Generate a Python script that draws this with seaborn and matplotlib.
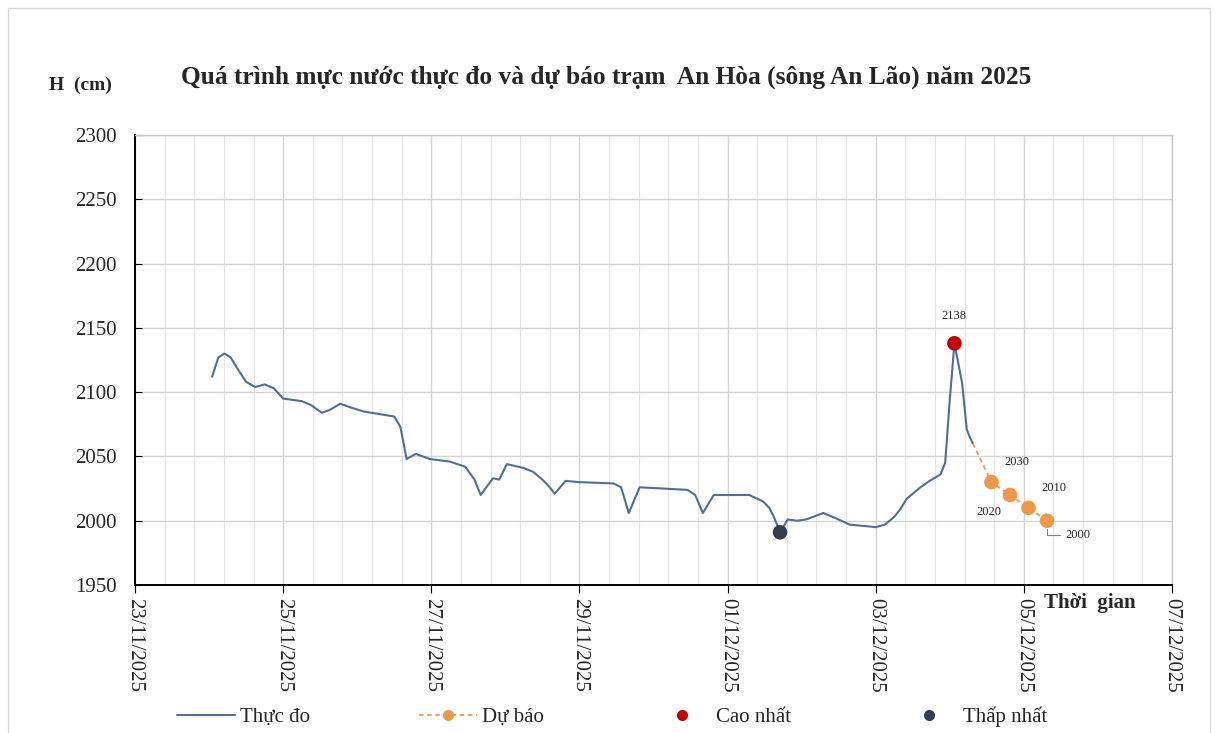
import pandas as pd
import numpy as np
import matplotlib.pyplot as plt
import matplotlib.dates as mdates
from matplotlib.lines import Line2D
from matplotlib.patches import Rectangle
import seaborn as sns

sns.set_style("whitegrid")
plt.rcParams["font.family"] = ["Liberation Serif", "DejaVu Serif"]

# measured water level (Thuc do)
obs_time = ["2025-11-24 01:00", "2025-11-24 03:00", "2025-11-24 05:00", "2025-11-24 07:00",
            "2025-11-24 09:00", "2025-11-24 12:00", "2025-11-24 15:00", "2025-11-24 18:00",
            "2025-11-24 21:00", "2025-11-25 00:00", "2025-11-25 06:00", "2025-11-25 09:00",
            "2025-11-25 12:30", "2025-11-25 15:00", "2025-11-25 18:30", "2025-11-25 22:00",
            "2025-11-26 02:00", "2025-11-26 07:00", "2025-11-26 12:00", "2025-11-26 14:00",
            "2025-11-26 16:00", "2025-11-26 19:00", "2025-11-26 23:30", "2025-11-27 06:00",
            "2025-11-27 11:00", "2025-11-27 14:00", "2025-11-27 16:00", "2025-11-27 20:00",
            "2025-11-27 22:00", "2025-11-28 00:30", "2025-11-28 06:00", "2025-11-28 09:00",
            "2025-11-28 12:00", "2025-11-28 14:00", "2025-11-28 16:00", "2025-11-28 19:30",
            "2025-11-29 00:00", "2025-11-29 11:00", "2025-11-29 13:30", "2025-11-29 16:00",
            "2025-11-29 19:30", "2025-11-30 11:00", "2025-11-30 13:30", "2025-11-30 16:00",
            "2025-11-30 19:30", "2025-12-01 07:00", "2025-12-01 11:30", "2025-12-01 13:30",
            "2025-12-01 15:00", "2025-12-01 17:00", "2025-12-01 19:30", "2025-12-01 22:30",
            "2025-12-02 01:30", "2025-12-02 07:00", "2025-12-02 11:00", "2025-12-02 15:30",
            "2025-12-03 00:00", "2025-12-03 03:00", "2025-12-03 06:00", "2025-12-03 08:00",
            "2025-12-03 10:00", "2025-12-03 14:30", "2025-12-03 17:30", "2025-12-03 21:00",
            "2025-12-03 22:30", "2025-12-04 00:00", "2025-12-04 01:30", "2025-12-04 04:00",
            "2025-12-04 05:30", "2025-12-04 06:30", "2025-12-04 07:30"]
obs_level = [2112, 2127, 2130, 2127,
             2119, 2108, 2104, 2106,
             2103, 2095, 2093, 2090,
             2084, 2086, 2091, 2088,
             2085, 2083, 2081, 2073,
             2048, 2052, 2048, 2046,
             2042, 2032, 2020, 2033,
             2032, 2044, 2041, 2038,
             2032, 2027, 2021, 2031,
             2030, 2029, 2026, 2006,
             2026, 2024, 2020, 2006,
             2020, 2020, 2015, 2010,
             2003, 1991, 2001, 2000,
             2001, 2006, 2002, 1997,
             1995, 1997, 2003, 2009,
             2017, 2026, 2031, 2036,
             2045, 2094, 2138, 2107,
             2071, 2065, 2060]

# forecast (Du bao)
fc_time = ["2025-12-04 13:30", "2025-12-04 19:30", "2025-12-05 01:30", "2025-12-05 07:30"]
fc_level = [2030, 2020, 2010, 2000]

obs = pd.DataFrame({"t": pd.to_datetime(obs_time), "H": obs_level})
fc = pd.DataFrame({"t": pd.to_datetime(fc_time), "H": fc_level})
fc_line = pd.concat([obs.tail(1), fc], ignore_index=True)
hi = obs.loc[[obs["H"].idxmax()]]
lo = obs.loc[[obs["H"].idxmin()]]

c_obs = "#4F6E9C"
c_fc = "#F0984A"
c_hi = "#C00000"
c_lo = "#323E4F"

fig = plt.figure(figsize=(12.19, 7.33), dpi=100)
fig.patches.append(Rectangle((8/1219, -0.1), 1202/1219, 1.1 - 8/733, transform=fig.transFigure,
                             fill=False, edgecolor="#d9d9d9", lw=1))
ax = fig.add_axes([135/1219, 1-585/733, 1037/1219, 450/733])

sns.lineplot(data=obs, x="t", y="H", ax=ax, color=c_obs, lw=1.5)
sns.lineplot(data=fc_line, x="t", y="H", ax=ax, color=c_fc, lw=1.3, linestyle=(0, (2.5, 2)))
sns.scatterplot(data=fc, x="t", y="H", ax=ax, color=c_fc, s=110, edgecolor="none", zorder=5)
sns.scatterplot(data=hi, x="t", y="H", ax=ax, color=c_hi, s=110, edgecolor="none", zorder=6)
sns.scatterplot(data=lo, x="t", y="H", ax=ax, color=c_lo, s=110, edgecolor="none", zorder=6)

# data labels
ax.annotate(str(hi["H"].iloc[0]), (hi["t"].iloc[0], hi["H"].iloc[0]), xytext=(0, 15),
            textcoords="offset points", ha="center", va="bottom", fontsize=9)
offs = [(9, 10, "left", "bottom"), (-6, -8, "right", "top"), (9, 10, "left", "bottom")]
for i, (dx, dy, ha, va) in enumerate(offs):
    ax.annotate(str(fc["H"].iloc[i]), (fc["t"].iloc[i], fc["H"].iloc[i]), xytext=(dx, dy),
                textcoords="offset points", ha=ha, va=va, fontsize=9)
ax.annotate(str(fc["H"].iloc[3]), (fc["t"].iloc[3], fc["H"].iloc[3]), xytext=(13, -10),
            textcoords="offset points", ha="left", va="center", fontsize=9,
            arrowprops=dict(arrowstyle="-", color="#7f7f7f", lw=0.8,
                            connectionstyle="angle,angleA=0,angleB=90,rad=0",
                            shrinkA=1, shrinkB=6))

start = pd.Timestamp("2025-11-23")
end = pd.Timestamp("2025-12-07")
ax.set_xlim(start, end)
ax.set_ylim(1950, 2300)
ax.set_yticks(np.arange(1950, 2301, 50))
d0, d1 = mdates.date2num(start), mdates.date2num(end)
ax.xaxis.set_major_locator(mdates.DayLocator(bymonthday=range(1, 32, 2)))
ax.xaxis.set_major_formatter(mdates.DateFormatter("%d/%m/%Y"))
ax.xaxis.set_minor_locator(plt.FixedLocator(np.arange(d0, d1 + 0.01, 0.4)))
ax.grid(which="major", color="#d4d4d4", lw=1)
ax.grid(which="minor", axis="x", color="#e6e6e6", lw=0.8)
ax.tick_params(axis="x", which="major", labelrotation=270, labelsize=15, length=6,
               direction="out", color="black", bottom=True)
ax.tick_params(axis="x", which="minor", length=0)
ax.tick_params(axis="y", labelsize=15, length=5, direction="in", pad=13, color="black", left=True)
ax.set_xlabel("")
ax.set_ylabel("")
for s in ["left", "bottom"]:
    ax.spines[s].set_color("black")
    ax.spines[s].set_linewidth(1.4)
for s in ["top", "right"]:
    ax.spines[s].set_color("#c8c8c8")
    ax.spines[s].set_linewidth(1)

fig.text(80/1219, 1-85/733, "H  (cm)", ha="center", va="center", fontsize=14, fontweight="bold")
fig.text(606/1219, 1-77/733, "Quá trình mực nước thực đo và dự báo trạm  An Hòa (sông An Lão) năm 2025",
         ha="center", va="center", fontsize=18.3, fontweight="bold")
fig.text(1090/1219, 1-603/733, "Thời  gian", ha="center", va="center", fontsize=15, fontweight="bold")

handles = [
    Line2D([], [], color=c_obs, lw=1.5),
    Line2D([], [], color=c_fc, lw=1.3, linestyle=(0, (2.5, 2)), marker="o", ms=8, mec="none"),
    Line2D([], [], color=c_hi, lw=0, marker="o", ms=8, mec="none"),
    Line2D([], [], color=c_lo, lw=0, marker="o", ms=8, mec="none"),
]
fig.legend(handles, ["Thực đo", "Dự báo", "Cao nhất", "Thấp nhất"], loc="center",
           bbox_to_anchor=(612/1219, 1-717/733), ncol=4, frameon=False, fontsize=15,
           handlelength=2.8, columnspacing=5.2, handletextpad=0.25)

fig.savefig("out.png", dpi=100)
